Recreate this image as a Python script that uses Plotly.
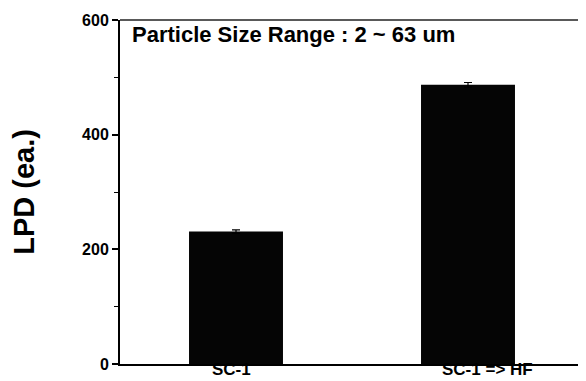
import plotly.graph_objects as go

categories = ["SC-1", "SC-1 => HF"]
lpd_values = [231, 487]
lpd_errors = [3, 4]
y_ticks = [0, 200, 400, 600]
title_text = "Particle Size Range : 2 ~ 63 um"
y_title = "LPD (ea.)"

FONT = "Arial, Liberation Sans, Helvetica, sans-serif"

fig = go.Figure()
fig.add_trace(go.Bar(
    x=categories,
    y=lpd_values,
    marker=dict(color="#050505", line=dict(width=0)),
    width=0.405,
    error_y=dict(type="data", array=lpd_errors, visible=True,
                 color="#000000", thickness=1.2, width=4),
    showlegend=False,
))

annotations = [dict(
    text=title_text, xref="paper", yref="paper", x=0.022, y=1.0,
    xanchor="left", yanchor="top", showarrow=False,
    font=dict(size=22, family=FONT, weight="bold", color="black"),
)]
# category labels drawn just under the axis
label_shift = [-5, 19]
for cat, xs in zip(categories, label_shift):
    annotations.append(dict(
        text=cat, xref="x", yref="paper", x=cat, y=0, yanchor="bottom",
        xanchor="center", showarrow=False, yshift=-17, xshift=xs,
        font=dict(size=17, family=FONT, weight="bold", color="black"),
    ))

fig.update_layout(
    width=578, height=373,
    margin=dict(l=112, r=2, t=12, b=17, autoexpand=False),
    paper_bgcolor="white", plot_bgcolor="white",
    font=dict(family=FONT, color="black"),
    bargap=0.6,
    xaxis=dict(
        type="category", range=[-0.5, 1.5], automargin=False,
        showline=True, linecolor="black", linewidth=2,
        ticks="", showgrid=False, zeroline=False, showticklabels=False,
    ),
    yaxis=dict(
        range=[0, 600], tickvals=y_ticks, automargin=False,
        showline=True, linecolor="black", linewidth=2,
        ticks="outside", ticklen=6, tickwidth=1.5, tickcolor="black",
        minor=dict(dtick=100, ticks="outside", ticklen=4, tickwidth=1, tickcolor="black", showgrid=False),
        showgrid=False, zeroline=False,
        tickfont=dict(size=16, family=FONT, weight="bold"),
        title=dict(text=y_title, font=dict(size=29, family=FONT, weight="bold"), standoff=44),
    ),
    annotations=annotations,
    shapes=[
        dict(type="line", xref="paper", yref="paper", x0=0, x1=1, y0=1, y1=1,
             line=dict(color="#222", width=1.5)),
        dict(type="line", xref="paper", yref="paper", x0=1, x1=1, y0=0, y1=1,
             line=dict(color="#888", width=1)),
    ],
)

fig.write_html("out.html")
